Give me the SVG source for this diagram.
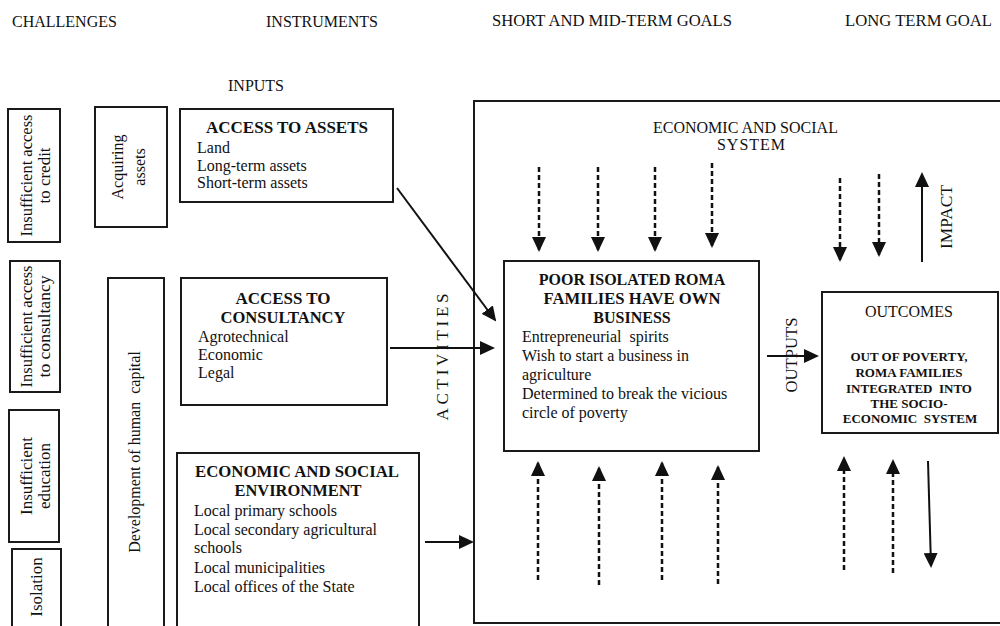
<svg xmlns="http://www.w3.org/2000/svg" width="1000" height="626" viewBox="0 0 1000 626">
<style>
  text { font-family: "Liberation Serif", "Times New Roman", serif; fill: #111; }
  .h { font-size: 16px; }
  .t { font-size: 16px; }
  .b { font-size: 16px; font-weight: bold; }
  .ob { font-size: 13px; font-weight: bold; }
  .box { fill: #fff; stroke: #1a1a1a; stroke-width: 2; }
  .ln { fill: none; stroke: #111; stroke-width: 2; }
  .dl { fill: none; stroke: #111; stroke-width: 2.5; stroke-dasharray: 5 3; }
  .c { text-anchor: middle; }
</style>
<defs>
  <marker id="ah" markerUnits="userSpaceOnUse" markerWidth="15" markerHeight="14" refX="13" refY="7" orient="auto">
    <path d="M0,0 L15,7 L0,14 z" fill="#111"/>
  </marker>
</defs>
<rect width="1000" height="626" fill="#fff"/>

<!-- headers -->
<g id="headers">
  <text class="h" x="12" y="27">CHALLENGES</text>
  <text class="h" x="266" y="27">INSTRUMENTS</text>
  <text class="h" x="492" y="26" textLength="240" lengthAdjust="spacingAndGlyphs">SHORT AND MID-TERM GOALS</text>
  <text class="h" x="845" y="26" textLength="147" lengthAdjust="spacingAndGlyphs">LONG TERM GOAL</text>
  <text class="h" x="228" y="91">INPUTS</text>
</g>

<!-- big system box -->
<g id="system">
  <rect class="box" x="474" y="101" width="540" height="522"/>
  <text class="t" x="653" y="133">ECONOMIC AND SOCIAL</text>
  <text class="t" x="717" y="150" textLength="68" lengthAdjust="spacing">SYSTEM</text>
</g>

<!-- challenges -->
<g id="ch-credit">
  <rect class="box" x="8" y="109" width="52" height="133"/>
  <text class="c" style="font-size:17px" transform="translate(32,175.5) rotate(-90)" textLength="122" lengthAdjust="spacingAndGlyphs">Insufficient access</text>
  <text class="c" style="font-size:17px" transform="translate(50,175.5) rotate(-90)">to credit</text>
</g>
<g id="ch-consultancy">
  <rect class="box" x="10" y="261" width="50" height="131"/>
  <text class="c" style="font-size:17px" transform="translate(32,326.5) rotate(-90)" textLength="122" lengthAdjust="spacingAndGlyphs">Insufficient access</text>
  <text class="c" style="font-size:17px" transform="translate(50,326.5) rotate(-90)" textLength="102" lengthAdjust="spacingAndGlyphs">to consultancy</text>
</g>
<g id="ch-education">
  <rect class="box" x="9" y="410" width="50" height="132"/>
  <text class="c" style="font-size:17px" transform="translate(32,476) rotate(-90)">Insufficient</text>
  <text class="c" style="font-size:17px" transform="translate(50,476) rotate(-90)">education</text>
</g>
<g id="ch-isolation">
  <rect class="box" x="12" y="549" width="49" height="100"/>
  <text class="c" style="font-size:17px" transform="translate(42,587) rotate(-90)">Isolation</text>
</g>

<!-- instruments -->
<g id="in-assets">
  <rect class="box" x="95" y="107" width="72" height="120"/>
  <text class="c t" transform="translate(123,167) rotate(-90)">Acquiring</text>
  <text class="c t" transform="translate(145,167) rotate(-90)">assets</text>
</g>
<g id="in-human">
  <rect class="box" x="108" y="278" width="56" height="370"/>
  <text class="c t" transform="translate(140,452) rotate(-90)" xml:space="preserve">Development of human  capital</text>
</g>

<!-- inputs -->
<g id="access-assets">
  <rect class="box" x="180" y="109" width="213" height="93"/>
  <text class="b c" x="287" y="133" textLength="162" lengthAdjust="spacingAndGlyphs">ACCESS TO ASSETS</text>
  <text class="t" x="197" y="153">Land</text>
  <text class="t" x="197" y="171">Long-term assets</text>
  <text class="t" x="197" y="188">Short-term assets</text>
</g>
<g id="access-consultancy">
  <rect class="box" x="181" y="278" width="206" height="127"/>
  <text class="b c" x="283" y="304" textLength="95" lengthAdjust="spacingAndGlyphs">ACCESS TO</text>
  <text class="b c" x="283" y="323" textLength="125" lengthAdjust="spacingAndGlyphs">CONSULTANCY</text>
  <text class="t" x="198" y="342">Agrotechnical</text>
  <text class="t" x="198" y="360">Economic</text>
  <text class="t" x="198" y="378">Legal</text>
</g>
<g id="environment">
  <rect class="box" x="177" y="453" width="242" height="200"/>
  <text class="b c" x="297" y="477" textLength="204" lengthAdjust="spacingAndGlyphs">ECONOMIC AND SOCIAL</text>
  <text class="b c" x="298" y="496" textLength="127" lengthAdjust="spacingAndGlyphs">ENVIRONMENT</text>
  <text class="t" x="194" y="516">Local primary schools</text>
  <text class="t" x="194" y="535">Local secondary agricultural</text>
  <text class="t" x="194" y="553">schools</text>
  <text class="t" x="194" y="573">Local municipalities</text>
  <text class="t" x="194" y="592">Local offices of the State</text>
</g>

<text id="activities" class="c" style="font-size:17px" transform="translate(448,357) rotate(-90)" textLength="127" lengthAdjust="spacing">ACTIVITIES</text>

<!-- short and mid term goal -->
<g id="roma-business">
  <rect class="box" x="504" y="261" width="255" height="190"/>
  <text class="b c" x="632" y="285">POOR ISOLATED ROMA</text>
  <text class="b c" x="632" y="304" textLength="177" lengthAdjust="spacingAndGlyphs">FAMILIES HAVE OWN</text>
  <text class="b c" x="632" y="323">BUSINESS</text>
  <text class="t" x="522" y="342" xml:space="preserve">Entrepreneurial  spirits</text>
  <text class="t" x="522" y="361">Wish to start a business in</text>
  <text class="t" x="522" y="380">agriculture</text>
  <text class="t" x="522" y="399">Determined to break the vicious</text>
  <text class="t" x="522" y="418">circle of poverty</text>
</g>

<!-- outcomes -->
<g id="outcomes">
  <rect class="box" x="822" y="292" width="176" height="141"/>
  <text class="t c" x="909" y="317">OUTCOMES</text>
  <text class="ob c" x="909" y="361">OUT OF POVERTY,</text>
  <text class="ob c" x="909" y="377">ROMA FAMILIES</text>
  <text class="ob c" x="909" y="393" xml:space="preserve">INTEGRATED  INTO</text>
  <text class="ob c" x="909" y="408">THE SOCIO-</text>
  <text class="ob c" x="910" y="423" xml:space="preserve">ECONOMIC  SYSTEM</text>
</g>

<text id="outputs-label" class="c t" transform="translate(797,355) rotate(-90)" textLength="75" lengthAdjust="spacingAndGlyphs">OUTPUTS</text>
<text id="impact-label" class="c t" transform="translate(952,217) rotate(-90)" textLength="64" lengthAdjust="spacingAndGlyphs">IMPACT</text>

<!-- connectors -->
<g id="connectors">
  <line class="ln" x1="397" y1="188" x2="495" y2="320" marker-end="url(#ah)"/>
  <line class="ln" x1="390" y1="348" x2="493" y2="348" marker-end="url(#ah)"/>
  <line class="ln" x1="425" y1="542" x2="472" y2="542" marker-end="url(#ah)"/>
  <line class="ln" x1="767" y1="356" x2="817" y2="356" marker-end="url(#ah)"/>
  <line class="ln" x1="922" y1="262" x2="922" y2="174" marker-end="url(#ah)"/>
  <line class="ln" x1="928" y1="461" x2="931" y2="566" marker-end="url(#ah)"/>

  <line class="dl" x1="539" y1="167" x2="539" y2="250" marker-end="url(#ah)"/>
  <line class="dl" x1="598" y1="167" x2="598" y2="250" marker-end="url(#ah)"/>
  <line class="dl" x1="655" y1="167" x2="655" y2="250" marker-end="url(#ah)"/>
  <line class="dl" x1="712" y1="163" x2="712" y2="246" marker-end="url(#ah)"/>
  <line class="dl" x1="840" y1="178" x2="840" y2="260" marker-end="url(#ah)"/>
  <line class="dl" x1="879" y1="174" x2="879" y2="255" marker-end="url(#ah)"/>

  <line class="dl" x1="538" y1="580" x2="538" y2="463" marker-end="url(#ah)"/>
  <line class="dl" x1="599" y1="585" x2="599" y2="468" marker-end="url(#ah)"/>
  <line class="dl" x1="662" y1="580" x2="662" y2="463" marker-end="url(#ah)"/>
  <line class="dl" x1="718" y1="584" x2="718" y2="467" marker-end="url(#ah)"/>
  <line class="dl" x1="844" y1="570" x2="844" y2="458" marker-end="url(#ah)"/>
  <line class="dl" x1="893" y1="573" x2="893" y2="461" marker-end="url(#ah)"/>
</g>
</svg>
